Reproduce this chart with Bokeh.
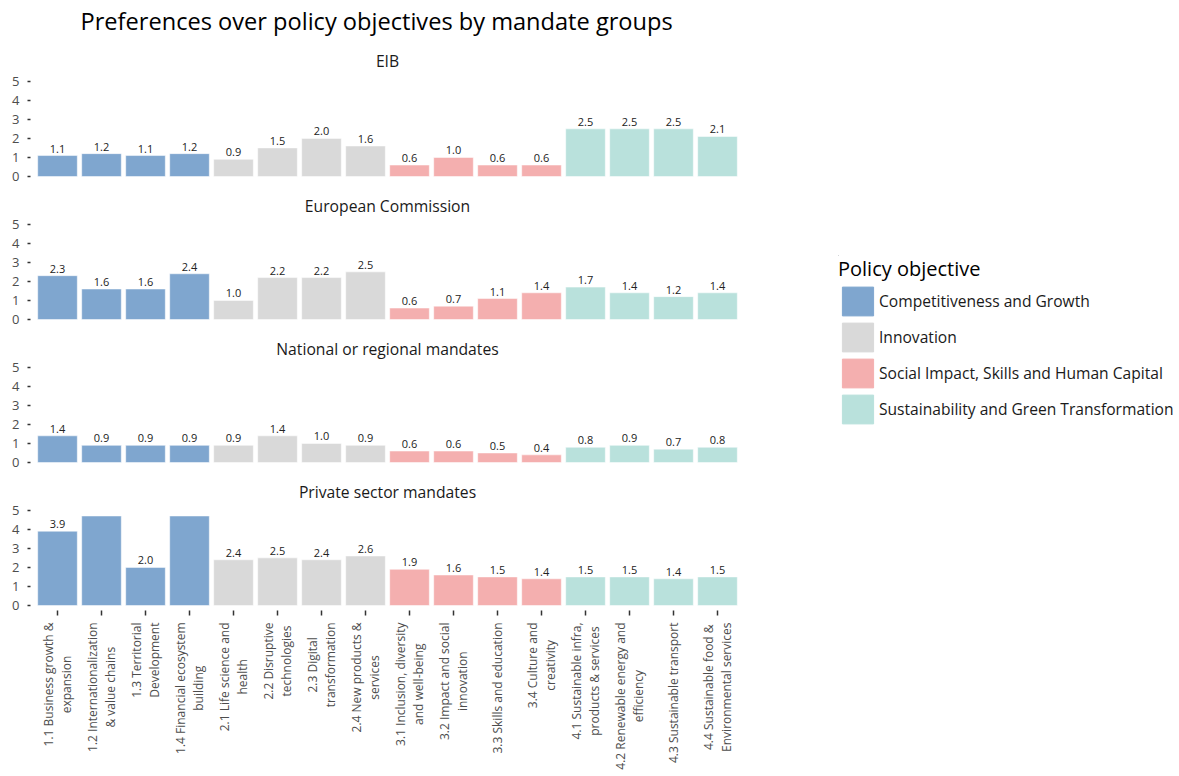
import numpy as np
from bokeh.plotting import figure
from bokeh.models import (ColumnDataSource, Range1d, FactorRange, Title, Legend,
                          LegendItem, FixedTicker)
from bokeh.layouts import column, row
from bokeh.embed import file_html
from bokeh.resources import INLINE
from bokeh.core.properties import value

FONT = "Open Sans"

# ---------------- data ----------------
objectives = [
    "1.1 Business growth &\nexpansion",
    "1.2 Internationalization\n& value chains",
    "1.3 Territorial\nDevelopment",
    "1.4 Financial ecosystem\nbuilding",
    "2.1 Life science and\nhealth",
    "2.2 Disruptive\ntechnologies",
    "2.3 Digital\ntransformation",
    "2.4 New products &\nservices",
    "3.1 Inclusion, diversity\nand well-being",
    "3.2 Impact and social\ninnovation",
    "3.3 Skills and education",
    "3.4 Culture and\ncreativity",
    "4.1 Sustainable infra,\nproducts & services",
    "4.2 Renewable energy and\nefficiency",
    "4.3 Sustainable transport",
    "4.4 Sustainable food &\nEnvironmental services",
]
group_names = [
    "Competitiveness and Growth",
    "Innovation",
    "Social Impact, Skills and Human Capital",
    "Sustainability and Green Transformation",
]
objective_group = [0, 0, 0, 0, 1, 1, 1, 1, 2, 2, 2, 2, 3, 3, 3, 3]
group_colors = ["#7fa6cf", "#d9d9d9", "#f4afaf", "#b9e1dc"]

panel_names = ["EIB", "European Commission", "National or regional mandates",
               "Private sector mandates"]
eib = [1.1, 1.2, 1.1, 1.2, 0.9, 1.5, 2.0, 1.6, 0.6, 1.0, 0.6, 0.6, 2.5, 2.5, 2.5, 2.1]
european_commission = [2.3, 1.6, 1.6, 2.4, 1.0, 2.2, 2.2, 2.5, 0.6, 0.7, 1.1, 1.4, 1.7, 1.4, 1.2, 1.4]
national_regional = [1.4, 0.9, 0.9, 0.9, 0.9, 1.4, 1.0, 0.9, 0.6, 0.6, 0.5, 0.4, 0.8, 0.9, 0.7, 0.8]
# two private-sector bars run past the top of the scale (shown clipped, no label)
private_sector = [3.9, 4.7, 2.0, 4.7, 2.4, 2.5, 2.4, 2.6, 1.9, 1.6, 1.5, 1.4, 1.5, 1.5, 1.4, 1.5]
private_label_hidden = [False, True, False, True] + [False] * 12

panel_values = [eib, european_commission, national_regional, private_sector]
panel_hidden = [[False] * 16, [False] * 16, [False] * 16, private_label_hidden]
y_ticks = [0, 1, 2, 3, 4, 5]

# ---------------- layout constants ----------------
LEFT = 30
FRAME_W = 714
FRAME_H = 105
PAD_UNITS = 5 / 44.0          # small gap between the axes and the bars
x_range = FactorRange(factors=objectives, range_padding=PAD_UNITS,
                      range_padding_units="absolute")

figs = []
n = len(panel_names)
for i, (name, vals, hidden) in enumerate(zip(panel_names, panel_values, panel_hidden)):
    last = (i == n - 1)
    src = ColumnDataSource(dict(
        x=objectives,
        top=vals,
        color=[group_colors[g] for g in objective_group],
        label=["" if h else f"{v:.1f}" for v, h in zip(vals, hidden)],
    ))
    p = figure(
        x_range=x_range,
        y_range=Range1d(-5 / 19.0, 5.25),
        frame_width=FRAME_W, frame_height=FRAME_H,
        min_border_left=LEFT, min_border_right=0,
        min_border_top=40 if i == 0 else 35,
        min_border_bottom=6 if last else 3,
        title=None,
        x_axis_location="below" if last else None,
        output_backend="svg", toolbar_location=None,
        outline_line_color=None,
        background_fill_color="white", border_fill_color="white",
    )
    p.vbar(x="x", top="top", width=0.9, source=src, fill_color="color",
           line_color="white", line_width=0.5)
    p.text(x="x", y="top", text="label", source=src, text_align="center",
           text_baseline="bottom", y_offset=-3, text_font=value(FONT),
           text_font_size="11px", text_color="#222222")

    p.xgrid.visible = False
    p.ygrid.visible = False

    ya = p.yaxis[0]
    ya.ticker = FixedTicker(ticks=y_ticks)
    ya.axis_line_color = None
    ya.minor_tick_line_color = None
    ya.major_tick_in = 0
    ya.major_tick_out = 3
    ya.major_tick_line_color = "#333333"
    ya.major_tick_line_width = 1.5
    ya.major_label_standoff = 8
    ya.major_label_text_font = FONT
    ya.major_label_text_font_size = "13px"
    ya.major_label_text_color = "#4d4d4d"

    if last:
        xa = p.xaxis[0]
        xa.axis_line_color = None
        xa.major_tick_in = 0
        xa.major_tick_out = 5
        xa.major_tick_line_color = "#333333"
        xa.major_tick_line_width = 1.5
        xa.major_label_standoff = 0
        xa.major_label_text_font_size = "0px"
        xa.major_label_text_alpha = 0

    strip = Title(text=name, align="center", text_font=FONT, text_font_size="15.7px",
                  text_font_style="normal", text_color="#1a1a1a",
                  standoff=10 if i == 0 else 6)
    p.add_layout(strip, "above")
    if i == 0:
        main = Title(text="Preferences over policy objectives by mandate groups",
                     align="left", vertical_align="top", offset=50, text_font=FONT,
                     text_font_size="23.6px", text_font_style="normal",
                     text_color="#000000", standoff=8)
        p.add_layout(main, "above")
    figs.append(p)

# ---------------- category labels (rotated, two lines, centred) ----------------
lab = figure(x_range=x_range, y_range=Range1d(-158, 0),
             frame_width=FRAME_W, frame_height=158,
             min_border_left=LEFT, min_border_right=0, min_border_top=0,
             min_border_bottom=0, title=None, x_axis_location=None,
             y_axis_location=None, output_backend="svg", toolbar_location=None,
             outline_line_color=None)
lab.xgrid.visible = False
lab.ygrid.visible = False
lab.text(x=objectives, y=[0] * len(objectives), text=objectives, angle=np.pi / 2,
         anchor="center_right", text_align="center", y_offset=6,
         text_font=value(FONT), text_font_size="12px", text_color="#4d4d4d",
         text_line_height=1.1)
figs.append(lab)

# ---------------- legend ----------------
lf = figure(width=435, height=770, x_range=Range1d(0, 1), y_range=Range1d(0, 1),
            min_border_left=94, min_border_top=255, min_border_right=0,
            min_border_bottom=0, x_axis_location=None, y_axis_location=None,
            title=None, outline_line_color=None, output_backend="svg",
            toolbar_location=None)
lf.xgrid.visible = False
lf.ygrid.visible = False
items = []
for gname, col in zip(group_names, group_colors):
    r = lf.vbar(x=[-10], bottom=[5], top=[6], width=0.5, fill_color=col, line_color=col)
    items.append(LegendItem(label=gname, renderers=[r]))
legend = Legend(items=items, location="top_left", title="Policy objective",
                glyph_width=39, glyph_height=36, label_height=30, spacing=-1,
                padding=0, margin=0, border_line_color=None,
                background_fill_alpha=0, label_standoff=2,
                label_text_font=FONT, label_text_font_size="15.6px",
                label_text_color="#1a1a1a",
                title_text_font=FONT, title_text_font_size="20px",
                title_text_font_style="normal", title_text_color="#000000",
                title_standoff=1)
lf.add_layout(legend)

layout = row(column(*figs), lf)
open("out.html", "w").write(file_html(layout, INLINE, "Preferences over policy objectives"))
